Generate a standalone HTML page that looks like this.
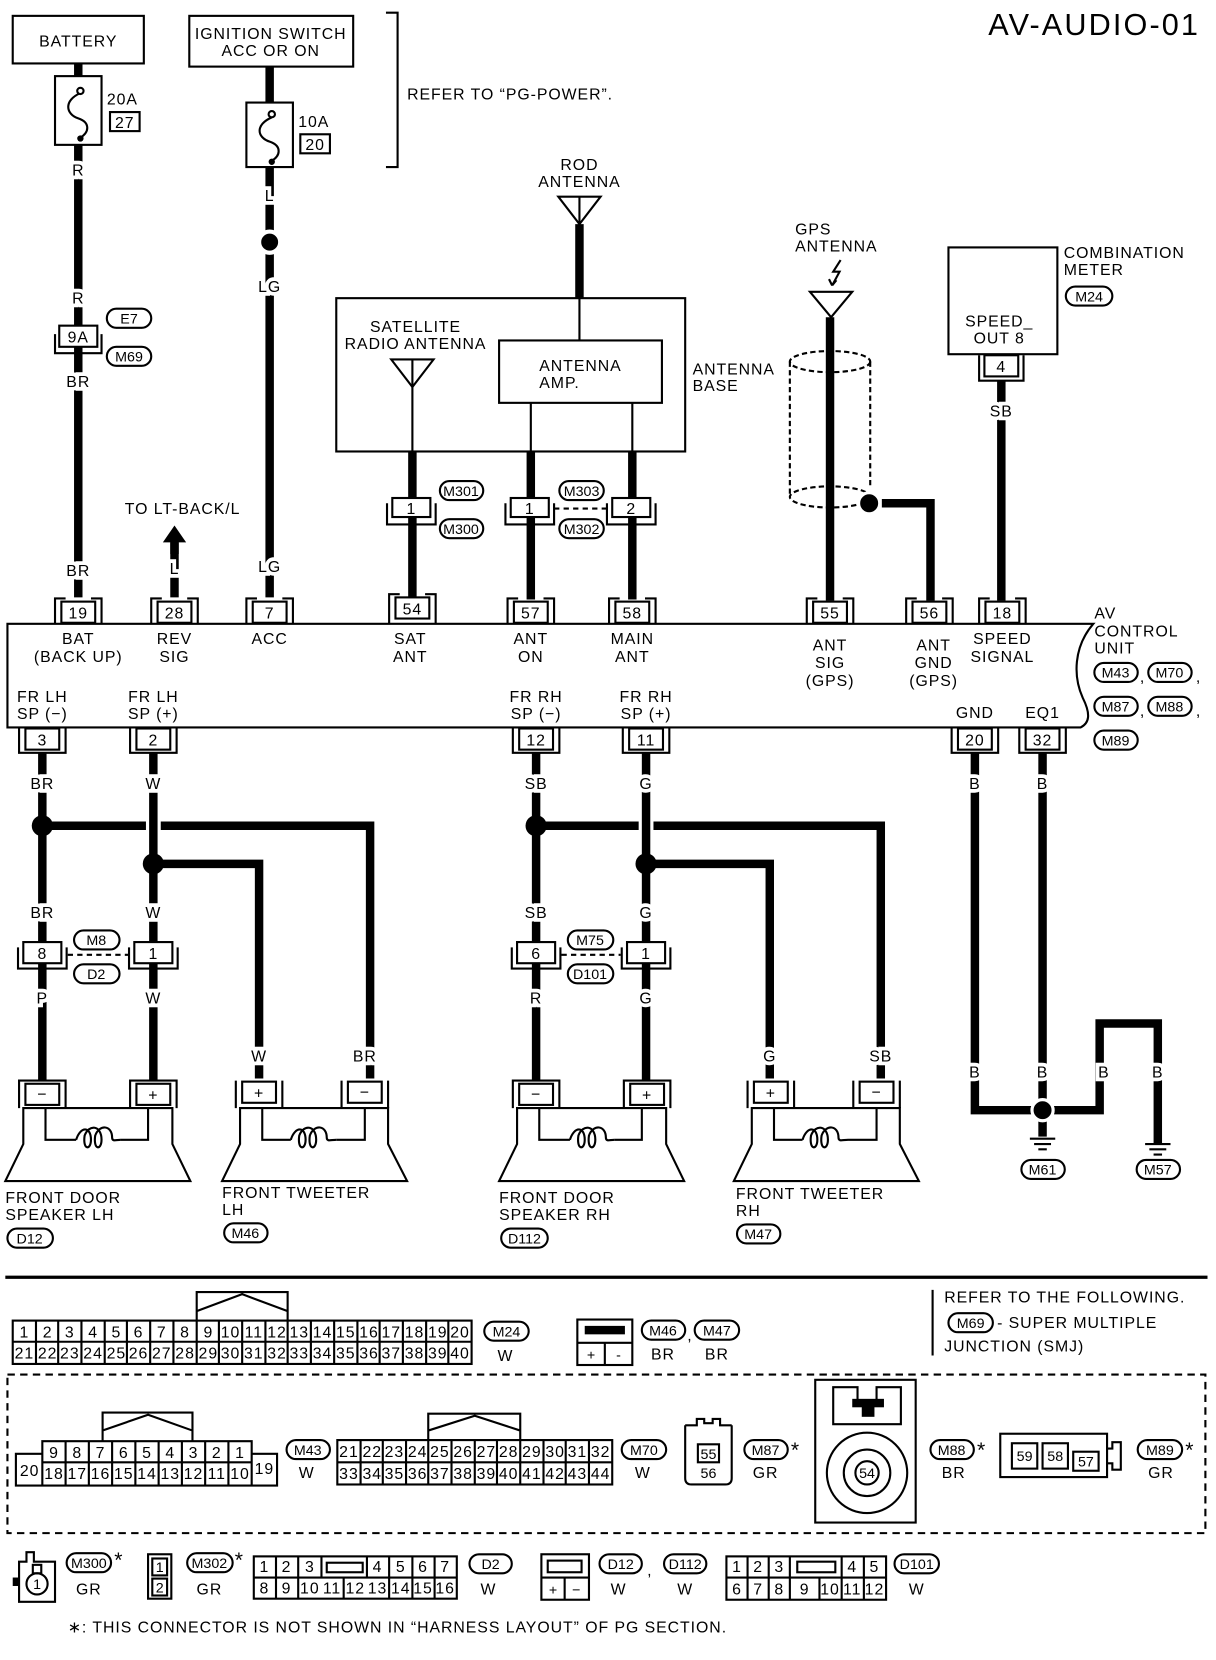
<!DOCTYPE html>
<html><head><meta charset="utf-8"><style>
html,body{margin:0;padding:0;background:#fff}
svg{display:block}
text{font-family:"Liberation Sans",Arial,sans-serif;font-size:15px;fill:#000;letter-spacing:0.9px}
.c{text-anchor:middle}
.w{paint-order:stroke;stroke:#fff;stroke-width:7px}
.t{fill:none;stroke:#000;stroke-width:2}
.k{fill:none;stroke:#000;stroke-width:8}
.o{fill:#fff;stroke:#000;stroke-width:2}
.s{font-size:13.5px;letter-spacing:0}
</style></head><body>
<svg width="1216" height="1660" viewBox="0 0 1150 1570" xmlns="http://www.w3.org/2000/svg">
<text x="1135" y="33" style="font-size:29px;letter-spacing:2px" text-anchor="end">AV-AUDIO-01</text>

<!-- battery -->
<rect x="12" y="15" width="124" height="45" class="t"/>
<text x="74" y="44" class="c">BATTERY</text>
<rect x="52" y="72" width="44" height="65" class="t"/>
<path d="M74 60V72 M74 137V565" class="k"/>
<path d="M76 88 C60 95,62 108,74 112 C86 116,84 126,76 130" class="t"/><circle cx="76" cy="86" r="3" class="o"/><circle cx="76" cy="131" r="3"/>
<text x="101" y="99">20A</text><rect x="104" y="106" width="28" height="18" class="t"/><text x="118" y="121" class="c">27</text>
<text x="74" y="166" class="c w">R</text>
<text x="74" y="287" class="c w">R</text>
<rect x="56" y="308" width="36" height="20" class="o"/><path d="M52 316V334H96V316" class="t"/><text x="74" y="324" class="c">9A</text>
<rect x="101" y="292" width="42" height="18" rx="9" class="o"/><text x="122" y="306" class="c s">E7</text>
<rect x="101" y="328" width="42" height="18" rx="9" class="o"/><text x="122" y="342" class="c s">M69</text>
<text x="74" y="366" class="c w">BR</text>
<text x="74" y="545" class="c w">BR</text>

<!-- ignition -->
<rect x="179" y="15" width="155" height="48" class="t"/>
<text x="256" y="37" class="c">IGNITION SWITCH</text><text x="256" y="53" class="c">ACC OR ON</text>
<rect x="233" y="97" width="44" height="61" class="t"/>
<path d="M255 63V97 M255 158V565" class="k"/>
<path d="M257 111 C241 118,243 130,255 134 C267 138,265 148,257 152" class="t"/><circle cx="257" cy="108" r="3" class="o"/><circle cx="257" cy="153" r="3"/>
<text x="282" y="120">10A</text><rect x="284" y="127" width="28" height="18" class="t"/><text x="298" y="142" class="c">20</text>
<text x="255" y="190" class="c w">L</text>
<circle cx="255" cy="229" r="10" stroke="#fff" stroke-width="4"/>
<text x="255" y="276" class="c w">LG</text>
<text x="255" y="541" class="c w">LG</text>
<path d="M365 12H376V158H365" class="t"/>
<text x="385" y="94">REFER TO “PG-POWER”.</text>

<!-- rev sig -->
<path d="M165 513V565" class="k"/>
<path d="M154 513L165 497L176 513Z"/><rect x="161" y="512" width="8" height="12"/>
<text x="118" y="486">TO LT-BACK/L</text>
<text x="165" y="543" class="c w">L</text>

<!-- antennas -->
<text x="548" y="161" class="c">ROD</text><text x="548" y="177" class="c">ANTENNA</text>
<path d="M528 186H568L548 212Z" class="t"/><path d="M548 186V212" class="t"/>
<path d="M548 212V282" class="k"/>
<rect x="318" y="282" width="330" height="145" class="t"/>
<text x="655" y="354">ANTENNA</text><text x="655" y="370">BASE</text>
<rect x="472" y="322" width="154" height="59" class="t" stroke-width="3"/>
<text x="510" y="351">ANTENNA</text><text x="510" y="367">AMP.</text>
<path d="M548 282V322 M502 381V427 M598 381V427 M390 341V427" class="t"/>
<text x="393" y="314" class="c">SATELLITE</text><text x="393" y="330" class="c">RADIO ANTENNA</text>
<path d="M370 340H410L390 366Z" class="t"/>
<path d="M390 427V565 M502 427V567 M598 427V567" class="k"/>
<rect x="371" y="471" width="36" height="18" class="o"/><path d="M366 476V496H412V476" class="t"/><text x="389" y="486" class="c">1</text>
<rect x="483" y="471" width="36" height="18" class="o"/><path d="M478 476V496H524V476" class="t"/><text x="501" y="486" class="c">1</text>
<rect x="579" y="471" width="36" height="18" class="o"/><path d="M574 476V496H620V476" class="t"/><text x="597" y="486" class="c">2</text>
<path d="M524 481H574" class="t" stroke-dasharray="5,4"/>
<rect x="416" y="455" width="41" height="18" rx="9" class="o"/><text x="436" y="469" class="c s">M301</text>
<rect x="416" y="491" width="41" height="18" rx="9" class="o"/><text x="436" y="505" class="c s">M300</text>
<rect x="529" y="455" width="42" height="18" rx="9" class="o"/><text x="550" y="469" class="c s">M303</text>
<rect x="529" y="491" width="42" height="18" rx="9" class="o"/><text x="550" y="505" class="c s">M302</text>

<!-- GPS -->
<text x="752" y="222">GPS</text><text x="752" y="238">ANTENNA</text>
<path d="M795 246L788 257L794 257L787 270 M787 270L784 264 M787 270L791 265" class="t"/>
<path d="M766 276H806L786 300Z" class="t"/>
<g class="t" stroke-dasharray="5,3"><ellipse cx="785" cy="342" rx="38" ry="10"/><ellipse cx="785" cy="470" rx="38" ry="10"/><path d="M747 342V470 M823 342V462"/></g>
<path d="M785 300V568" class="k"/>
<circle cx="822" cy="476" r="10" stroke="#fff" stroke-width="3"/>
<path d="M834 476H880V568" class="k"/>

<!-- combination meter -->
<rect x="897" y="234" width="103" height="101" class="t"/>
<text x="945" y="309" class="c">SPEED_</text><text x="945" y="325" class="c">OUT 8</text>
<text x="1006" y="244">COMBINATION</text><text x="1006" y="260">METER</text>
<rect x="1008" y="271" width="44" height="18" rx="9" class="o"/><text x="1030" y="285" class="c s">M24</text>
<rect x="931" y="336" width="32" height="20" class="o"/><path d="M926 336V360H968V336" class="t"/><text x="947" y="352" class="c">4</text>
<path d="M947 360V568" class="k"/>
<text x="947" y="394" class="c w">SB</text>

<!-- AV unit -->
<path d="M7 590H1034C1015 612,1015 640,1024 660C1032 676,1030 684,1022 688H7Z" class="t" stroke-width="2.5"/>
<g>
<rect x="58" y="569" width="32" height="20" class="o"/><path d="M52 590V566H62 M96 590V566H86" class="t"/><text x="74" y="585" class="c">19</text>
<rect x="149" y="569" width="32" height="20" class="o"/><path d="M143 590V566H153 M187 590V566H177" class="t"/><text x="165" y="585" class="c">28</text>
<rect x="239" y="569" width="32" height="20" class="o"/><path d="M233 590V566H243 M277 590V566H267" class="t"/><text x="255" y="585" class="c">7</text>
<rect x="374" y="565" width="32" height="20" class="o"/><path d="M368 590V562H378 M412 590V562H402" class="t"/><text x="390" y="581" class="c">54</text>
<rect x="486" y="569" width="32" height="20" class="o"/><path d="M480 590V566H490 M524 590V566H514" class="t"/><text x="502" y="585" class="c">57</text>
<rect x="582" y="569" width="32" height="20" class="o"/><path d="M576 590V566H586 M620 590V566H610" class="t"/><text x="598" y="585" class="c">58</text>
<rect x="769" y="569" width="32" height="20" class="o"/><path d="M763 590V566H773 M807 590V566H797" class="t"/><text x="785" y="585" class="c">55</text>
<rect x="863" y="569" width="32" height="20" class="o"/><path d="M857 590V566H867 M901 590V566H891" class="t"/><text x="879" y="585" class="c">56</text>
<rect x="932" y="569" width="32" height="20" class="o"/><path d="M926 590V566H936 M970 590V566H960" class="t"/><text x="948" y="585" class="c">18</text>
</g>
<text x="74" y="609" class="c">BAT</text><text x="74" y="626" class="c">(BACK UP)</text>
<text x="165" y="609" class="c">REV</text><text x="165" y="626" class="c">SIG</text>
<text x="255" y="609" class="c">ACC</text>
<text x="388" y="609" class="c">SAT</text><text x="388" y="626" class="c">ANT</text>
<text x="502" y="609" class="c">ANT</text><text x="502" y="626" class="c">ON</text>
<text x="598" y="609" class="c">MAIN</text><text x="598" y="626" class="c">ANT</text>
<text x="785" y="615" class="c">ANT</text><text x="785" y="632" class="c">SIG</text><text x="785" y="649" class="c">(GPS)</text>
<text x="883" y="615" class="c">ANT</text><text x="883" y="632" class="c">GND</text><text x="883" y="649" class="c">(GPS)</text>
<text x="948" y="609" class="c">SPEED</text><text x="948" y="626" class="c">SIGNAL</text>
<text x="40" y="664" class="c">FR LH</text><text x="40" y="680" class="c">SP (−)</text>
<text x="145" y="664" class="c">FR LH</text><text x="145" y="680" class="c">SP (+)</text>
<text x="507" y="664" class="c">FR RH</text><text x="507" y="680" class="c">SP (−)</text>
<text x="611" y="664" class="c">FR RH</text><text x="611" y="680" class="c">SP (+)</text>
<text x="922" y="679" class="c">GND</text><text x="986" y="679" class="c">EQ1</text>
<text x="1035" y="585">AV</text><text x="1035" y="602">CONTROL</text><text x="1035" y="618">UNIT</text>
<rect x="1035" y="627" width="41" height="18" rx="9" class="o"/><text x="1055" y="641" class="c s">M43</text><text x="1078" y="645">,</text>
<rect x="1086" y="627" width="41" height="18" rx="9" class="o"/><text x="1106" y="641" class="c s">M70</text><text x="1131" y="645">,</text>
<rect x="1035" y="659" width="41" height="18" rx="9" class="o"/><text x="1055" y="673" class="c s">M87</text><text x="1078" y="677">,</text>
<rect x="1086" y="659" width="41" height="18" rx="9" class="o"/><text x="1106" y="673" class="c s">M88</text><text x="1131" y="677">,</text>
<rect x="1035" y="691" width="41" height="18" rx="9" class="o"/><text x="1055" y="705" class="c s">M89</text>

<!-- bottom connectors of unit -->
<g>
<rect x="24" y="689" width="32" height="20" class="o"/><path d="M18 688V712H62V688" class="t"/><text x="40" y="705" class="c">3</text>
<rect x="129" y="689" width="32" height="20" class="o"/><path d="M123 688V712H167V688" class="t"/><text x="145" y="705" class="c">2</text>
<rect x="491" y="689" width="32" height="20" class="o"/><path d="M485 688V712H529V688" class="t"/><text x="507" y="705" class="c">12</text>
<rect x="595" y="689" width="32" height="20" class="o"/><path d="M589 688V712H633V688" class="t"/><text x="611" y="705" class="c">11</text>
<rect x="906" y="689" width="32" height="20" class="o"/><path d="M900 688V712H944V688" class="t"/><text x="922" y="705" class="c">20</text>
<rect x="970" y="689" width="32" height="20" class="o"/><path d="M964 688V712H1008V688" class="t"/><text x="986" y="705" class="c">32</text>
</g>

<!-- LH wiring -->
<path d="M40 712V1022 M145 712V1022" class="k"/>
<path d="M40 781H138 M152 781H350V1020 M145 817H245V1020" class="k"/>
<circle cx="40" cy="781" r="10"/><circle cx="145" cy="817" r="10"/>
<text x="40" y="746" class="c w">BR</text><text x="145" y="746" class="c w">W</text>
<text x="40" y="868" class="c w">BR</text><text x="145" y="868" class="c w">W</text>
<text x="40" y="949" class="c w">P</text><text x="145" y="949" class="c w">W</text>
<text x="245" y="1004" class="c w">W</text><text x="345" y="1004" class="c w">BR</text>
<rect x="22" y="891" width="36" height="20" class="o"/><path d="M17 896V916H63V896" class="t"/><text x="40" y="907" class="c">8</text>
<rect x="127" y="891" width="36" height="20" class="o"/><path d="M122 896V916H168V896" class="t"/><text x="145" y="907" class="c">1</text>
<path d="M64 903H121" class="t" stroke-dasharray="5,4"/>
<rect x="70" y="880" width="43" height="18" rx="9" class="o"/><text x="91" y="894" class="c s">M8</text>
<rect x="70" y="912" width="43" height="18" rx="9" class="o"/><text x="91" y="926" class="c s">D2</text>

<!-- RH wiring -->
<path d="M507 712V1022 M611 712V1022" class="k"/>
<path d="M507 781H604 M618 781H833V1020 M611 817H728V1020" class="k"/>
<circle cx="507" cy="781" r="10"/><circle cx="611" cy="817" r="10"/>
<text x="507" y="746" class="c w">SB</text><text x="611" y="746" class="c w">G</text>
<text x="507" y="868" class="c w">SB</text><text x="611" y="868" class="c w">G</text>
<text x="507" y="949" class="c w">R</text><text x="611" y="949" class="c w">G</text>
<text x="728" y="1004" class="c w">G</text><text x="833" y="1004" class="c w">SB</text>
<rect x="489" y="891" width="36" height="20" class="o"/><path d="M484 896V916H530V896" class="t"/><text x="507" y="907" class="c">6</text>
<rect x="593" y="891" width="36" height="20" class="o"/><path d="M588 896V916H634V896" class="t"/><text x="611" y="907" class="c">1</text>
<path d="M531 903H587" class="t" stroke-dasharray="5,4"/>
<rect x="537" y="880" width="43" height="18" rx="9" class="o"/><text x="558" y="894" class="c s">M75</text>
<rect x="537" y="912" width="43" height="18" rx="9" class="o"/><text x="558" y="926" class="c s">D101</text>

<!-- speakers -->
<g id="spk">
<rect x="24" y="1025" width="32" height="20" class="o"/><text x="40" y="1040" class="c">−</text>
<rect x="129" y="1025" width="32" height="20" class="o"/><text x="145" y="1041" class="c">+</text>
<path d="M18 1048V1022H62V1048 M123 1048V1022H167V1048" class="t"/>
<path d="M22 1048H163V1082L180 1117H5L22 1082Z" class="t"/>
<path d="M43 1048V1078H72 M114 1078H140V1048" class="t"/>
<path d="M72 1078C76 1065,86 1065,86 1078C86 1088,78 1088,80 1074C84 1063,96 1064,96 1078C96 1088,88 1088,90 1074C94 1063,106 1064,106 1076C106 1080,110 1078,114 1078" class="t"/>
</g>
<use href="#spk" x="467"/>
<g id="tw">
<rect x="229" y="1023" width="32" height="20" class="o"/><text x="245" y="1039" class="c">+</text>
<rect x="329" y="1023" width="32" height="20" class="o"/><text x="345" y="1038" class="c">−</text>
<path d="M223 1048V1022 M267 1048V1022 M323 1048V1022 M367 1048V1022" class="t"/>
<path d="M227 1048H367V1082L385 1117H210L227 1082Z" class="t"/>
<path d="M248 1048V1078H275 M318 1078H345V1048" class="t"/>
<path d="M275 1078C279 1065,289 1065,289 1078C289 1088,281 1088,283 1074C287 1063,299 1064,299 1078C299 1088,291 1088,293 1074C297 1063,309 1064,309 1076C309 1080,313 1078,318 1078" class="t"/>
</g>
<use href="#tw" x="484"/>
<text x="5" y="1138">FRONT DOOR</text><text x="5" y="1154">SPEAKER LH</text>
<rect x="7" y="1162" width="43" height="18" rx="9" class="o"/><text x="28" y="1176" class="c s">D12</text>
<text x="210" y="1133">FRONT TWEETER</text><text x="210" y="1149">LH</text>
<rect x="212" y="1157" width="41" height="18" rx="9" class="o"/><text x="232" y="1171" class="c s">M46</text>
<text x="472" y="1138">FRONT DOOR</text><text x="472" y="1154">SPEAKER RH</text>
<rect x="474" y="1162" width="44" height="18" rx="9" class="o"/><text x="496" y="1176" class="c s">D112</text>
<text x="696" y="1134">FRONT TWEETER</text><text x="696" y="1150">RH</text>
<rect x="697" y="1158" width="41" height="18" rx="9" class="o"/><text x="717" y="1172" class="c s">M47</text>

<!-- ground -->
<path d="M922 712V1050H986 M986 712V1075 M986 1050H1040V968H1095V1082" class="k"/>
<circle cx="986" cy="1050" r="10" stroke="#fff" stroke-width="3"/>
<text x="922" y="746" class="c w">B</text><text x="986" y="746" class="c w">B</text>
<text x="922" y="1019" class="c w">B</text><text x="986" y="1019" class="c w">B</text><text x="1044" y="1019" class="c w">B</text><text x="1095" y="1019" class="c w">B</text>
<path d="M974 1077H998 M978 1082H994 M982 1087H990 M1083 1082H1107 M1087 1087H1103 M1091 1092H1099" class="t"/>
<rect x="966" y="1097" width="41" height="18" rx="9" class="o"/><text x="986" y="1111" class="c s">M61</text>
<rect x="1075" y="1097" width="41" height="18" rx="9" class="o"/><text x="1095" y="1111" class="c s">M57</text>

<!-- separator -->
<path d="M5 1208H1142" stroke="#000" stroke-width="3"/>

<!-- M24 -->
<g class="t">
<rect x="12" y="1249" width="434" height="41"/><path d="M12 1269H446"/>
<path d="M34 1249V1290M55 1249V1290M77 1249V1290M99 1249V1290M120 1249V1290M142 1249V1290M164 1249V1290M186 1249V1290M207 1249V1290M229 1249V1290M251 1249V1290M272 1249V1290M294 1249V1290M316 1249V1290M338 1249V1290M359 1249V1290M381 1249V1290M403 1249V1290M424 1249V1290"/>
<path d="M186 1249V1222H272V1249 M186 1240L229 1224L272 1240"/>
</g>
<g class="c s">
<text x="23" y="1265">1</text><text x="45" y="1265">2</text><text x="66" y="1265">3</text><text x="88" y="1265">4</text><text x="110" y="1265">5</text><text x="131" y="1265">6</text><text x="153" y="1265">7</text><text x="175" y="1265">8</text><text x="197" y="1265">9</text><text x="218" y="1265">10</text><text x="240" y="1265">11</text><text x="262" y="1265">12</text><text x="283" y="1265">13</text><text x="305" y="1265">14</text><text x="327" y="1265">15</text><text x="349" y="1265">16</text><text x="370" y="1265">17</text><text x="392" y="1265">18</text><text x="414" y="1265">19</text><text x="435" y="1265">20</text>
<text x="23" y="1285">21</text><text x="45" y="1285">22</text><text x="66" y="1285">23</text><text x="88" y="1285">24</text><text x="110" y="1285">25</text><text x="131" y="1285">26</text><text x="153" y="1285">27</text><text x="175" y="1285">28</text><text x="197" y="1285">29</text><text x="218" y="1285">30</text><text x="240" y="1285">31</text><text x="262" y="1285">32</text><text x="283" y="1285">33</text><text x="305" y="1285">34</text><text x="327" y="1285">35</text><text x="349" y="1285">36</text><text x="370" y="1285">37</text><text x="392" y="1285">38</text><text x="414" y="1285">39</text><text x="435" y="1285">40</text>
</g>
<rect x="458" y="1250" width="42" height="18" rx="9" class="o"/><text x="479" y="1264" class="c s">M24</text><text x="478" y="1287" class="c">W</text>

<!-- M46/M47 conn -->
<rect x="546" y="1248" width="52" height="43" class="t"/><path d="M546 1270H598 M572 1270V1291" class="t"/>
<rect x="553" y="1254" width="38" height="8"/>
<text x="559" y="1286" class="c s">+</text><text x="585" y="1286" class="c s">-</text>
<rect x="607" y="1249" width="41" height="18" rx="9" class="o"/><text x="627" y="1263" class="c s">M46</text><text x="650" y="1268">,</text>
<rect x="657" y="1249" width="42" height="18" rx="9" class="o"/><text x="678" y="1263" class="c s">M47</text>
<text x="627" y="1286" class="c">BR</text><text x="678" y="1286" class="c">BR</text>

<path d="M882 1220V1282" class="t"/>
<text x="893" y="1232">REFER TO THE FOLLOWING.</text>
<rect x="897" y="1242" width="42" height="18" rx="9" class="o"/><text x="918" y="1256" class="c s">M69</text>
<text x="943" y="1256">- SUPER MULTIPLE</text>
<text x="893" y="1278">JUNCTION (SMJ)</text>

<!-- dashed box -->
<rect x="7" y="1300" width="1133" height="150" class="t" stroke-dasharray="7,5"/>

<!-- M43 -->
<g class="t">
<path d="M15 1405V1375H40V1363H238V1375H262V1405Z M40 1375V1405 M238 1375V1405 M40 1383H238"/>
<path d="M62 1363V1405M84 1363V1405M106 1363V1405M128 1363V1405M150 1363V1405M172 1363V1405M194 1363V1405M216 1363V1405"/>
<path d="M97 1363V1336H182V1363 M97 1353L140 1338L182 1353"/>
</g>
<g class="c s">
<text x="51" y="1379">9</text><text x="73" y="1379">8</text><text x="95" y="1379">7</text><text x="117" y="1379">6</text><text x="139" y="1379">5</text><text x="161" y="1379">4</text><text x="183" y="1379">3</text><text x="205" y="1379">2</text><text x="227" y="1379">1</text>
<text x="51" y="1399">18</text><text x="73" y="1399">17</text><text x="95" y="1399">16</text><text x="117" y="1399">15</text><text x="139" y="1399">14</text><text x="161" y="1399">13</text><text x="183" y="1399">12</text><text x="205" y="1399">11</text><text x="227" y="1399">10</text>
<text x="28" y="1396">20</text><text x="250" y="1394">19</text>
</g>
<rect x="271" y="1362" width="41" height="18" rx="9" class="o"/><text x="291" y="1376" class="c s">M43</text><text x="290" y="1398" class="c">W</text>

<!-- M70 -->
<g class="t">
<rect x="319" y="1362" width="260" height="42"/><path d="M319 1383H579"/>
<path d="M341 1362V1404M362 1362V1404M384 1362V1404M405 1362V1404M427 1362V1404M449 1362V1404M470 1362V1404M492 1362V1404M514 1362V1404M535 1362V1404M557 1362V1404"/>
<path d="M405 1362V1337H492V1362 M405 1353L449 1339L492 1353"/>
</g>
<g class="c s">
<text x="330" y="1378">21</text><text x="352" y="1378">22</text><text x="373" y="1378">23</text><text x="395" y="1378">24</text><text x="416" y="1378">25</text><text x="438" y="1378">26</text><text x="460" y="1378">27</text><text x="481" y="1378">28</text><text x="503" y="1378">29</text><text x="525" y="1378">30</text><text x="546" y="1378">31</text><text x="568" y="1378">32</text>
<text x="330" y="1399">33</text><text x="352" y="1399">34</text><text x="373" y="1399">35</text><text x="395" y="1399">36</text><text x="416" y="1399">37</text><text x="438" y="1399">38</text><text x="460" y="1399">39</text><text x="481" y="1399">40</text><text x="503" y="1399">41</text><text x="525" y="1399">42</text><text x="546" y="1399">43</text><text x="568" y="1399">44</text>
</g>
<rect x="588" y="1362" width="42" height="18" rx="9" class="o"/><text x="609" y="1376" class="c s">M70</text><text x="608" y="1398" class="c">W</text>

<!-- M87 -->
<path d="M648 1348V1398Q648 1404,654 1404H686Q692 1404,692 1398V1348 M648 1348H659V1342H666V1346H674V1342H681V1348H692" class="t"/>
<rect x="660" y="1366" width="20" height="17" class="t"/><text x="670" y="1380" class="c s">55</text><text x="670" y="1398" class="c s">56</text>
<rect x="704" y="1362" width="41" height="18" rx="9" class="o"/><text x="724" y="1376" class="c s">M87</text><text x="748" y="1378" style="font-size:20px">*</text><text x="724" y="1398" class="c">GR</text>

<!-- M88 -->
<rect x="771" y="1305" width="95" height="135" class="t" stroke-width="2.5"/>
<path d="M788 1312V1347H852V1312H829V1328H811V1312Z" class="t"/>
<rect x="806" y="1323" width="30" height="8"/><rect x="815" y="1330" width="12" height="10"/>
<circle cx="820" cy="1393" r="38" class="t"/><circle cx="820" cy="1393" r="22" class="t"/><circle cx="820" cy="1393" r="11" class="t"/>
<text x="820" y="1398" class="c s">54</text>
<rect x="880" y="1362" width="41" height="18" rx="9" class="o"/><text x="900" y="1376" class="c s">M88</text><text x="924" y="1378" style="font-size:20px">*</text><text x="902" y="1398" class="c">BR</text>

<!-- M89 -->
<rect x="946" y="1356" width="101" height="41" class="t" stroke-width="2.5"/>
<path d="M1047 1370H1052V1364H1060V1390H1052V1384H1047" class="t"/>
<rect x="957" y="1365" width="24" height="24" class="t"/><text x="969" y="1382" class="c s">59</text>
<rect x="986" y="1365" width="24" height="24" class="t"/><text x="998" y="1382" class="c s">58</text>
<rect x="1015" y="1373" width="24" height="18" class="t"/><text x="1027" y="1387" class="c s">57</text>
<rect x="1076" y="1362" width="42" height="18" rx="9" class="o"/><text x="1097" y="1376" class="c s">M89</text><text x="1121" y="1378" style="font-size:20px">*</text><text x="1098" y="1398" class="c">GR</text>

<!-- bottom row -->
<path d="M18 1477H25V1468H32V1477H52V1515H18Z" class="t"/><rect x="12" y="1492" width="6" height="8"/>
<circle cx="35" cy="1498" r="10" class="t"/><rect x="31" y="1480" width="8" height="8" class="t"/><text x="35" y="1503" class="c s">1</text>
<rect x="63" y="1469" width="42" height="18" rx="9" class="o"/><text x="84" y="1483" class="c s">M300</text><text x="108" y="1482" style="font-size:20px">*</text><text x="84" y="1508" class="c">GR</text>
<rect x="140" y="1470" width="22" height="42" class="t"/><rect x="144" y="1474" width="14" height="16" class="t"/><rect x="144" y="1493" width="14" height="16" class="t"/>
<text x="151" y="1487" class="c s">1</text><text x="151" y="1506" class="c s">2</text>
<rect x="177" y="1469" width="43" height="18" rx="9" class="o"/><text x="198" y="1483" class="c s">M302</text><text x="222" y="1482" style="font-size:20px">*</text><text x="198" y="1508" class="c">GR</text>

<g class="t">
<rect x="240" y="1472" width="192" height="40"/><path d="M240 1492H432"/>
<path d="M261 1472V1512M282 1472V1512M304 1472V1492M347 1472V1492M368 1472V1512M390 1472V1512M411 1472V1512M325 1492V1512"/>
<rect x="309" y="1478" width="34" height="9"/>
</g>
<g class="c s">
<text x="250" y="1487">1</text><text x="271" y="1487">2</text><text x="293" y="1487">3</text><text x="357" y="1487">4</text><text x="379" y="1487">5</text><text x="400" y="1487">6</text><text x="421" y="1487">7</text>
<text x="250" y="1507">8</text><text x="271" y="1507">9</text><text x="293" y="1507">10</text><text x="314" y="1507">11</text><text x="336" y="1507">12</text><text x="357" y="1507">13</text><text x="379" y="1507">14</text><text x="400" y="1507">15</text><text x="421" y="1507">16</text>
</g>
<rect x="444" y="1470" width="40" height="18" rx="9" class="o"/><text x="464" y="1484" class="c s">D2</text><text x="462" y="1508" class="c">W</text>

<rect x="512" y="1470" width="45" height="43" class="t"/><path d="M512 1492H557 M534 1492V1513" class="t"/><rect x="518" y="1476" width="32" height="11" class="t"/>
<text x="523" y="1508" class="c s">+</text><text x="545" y="1508" class="c s">−</text>
<rect x="567" y="1470" width="40" height="18" rx="9" class="o"/><text x="587" y="1484" class="c s">D12</text><text x="612" y="1490">,</text>
<rect x="628" y="1470" width="40" height="18" rx="9" class="o"/><text x="648" y="1484" class="c s">D112</text>
<text x="585" y="1508" class="c">W</text><text x="648" y="1508" class="c">W</text>

<g class="t">
<rect x="687" y="1472" width="151" height="41"/><path d="M687 1492H838"/>
<path d="M707 1472V1513M727 1472V1513M747 1472V1513M796 1472V1513M817 1472V1513M775 1492V1513"/>
<rect x="754" y="1477" width="36" height="10"/>
</g>
<g class="c s">
<text x="697" y="1487">1</text><text x="717" y="1487">2</text><text x="737" y="1487">3</text><text x="806" y="1487">4</text><text x="827" y="1487">5</text>
<text x="697" y="1508">6</text><text x="717" y="1508">7</text><text x="737" y="1508">8</text><text x="761" y="1508">9</text><text x="785" y="1508">10</text><text x="806" y="1508">11</text><text x="827" y="1508">12</text>
</g>
<rect x="846" y="1470" width="42" height="18" rx="9" class="o"/><text x="867" y="1484" class="c s">D101</text><text x="867" y="1508" class="c">W</text>

<text x="64" y="1544">∗: THIS CONNECTOR IS NOT SHOWN IN “HARNESS LAYOUT” OF PG SECTION.</text>
</svg>
</body></html>
